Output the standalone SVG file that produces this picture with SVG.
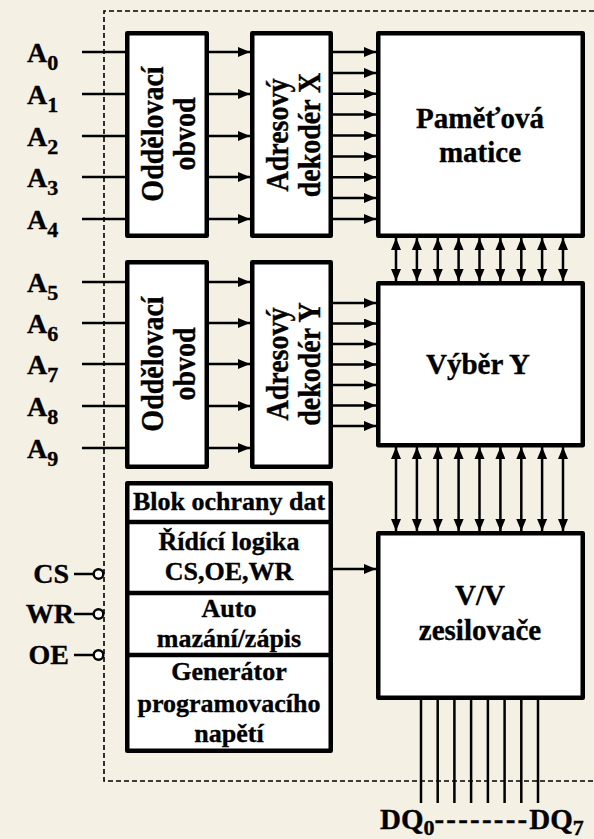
<svg xmlns="http://www.w3.org/2000/svg" width="594" height="839" viewBox="0 0 594 839">
<defs>
<style>
.box{fill:#ffffff;stroke:#000;stroke-width:4.5;stroke-linejoin:round}
.t{font-family:"Liberation Serif","Times New Roman",serif;font-weight:bold;font-size:26px;fill:#000;stroke:#000;stroke-width:0.35}
.big{font-size:29px}
.rot{font-size:28px}
.lab{font-size:28px}
.sub{font-size:22px}
.c{text-anchor:middle}
.e{text-anchor:end}
.w{stroke:#000;stroke-width:2.5;fill:none}
.dash{stroke:#000;stroke-width:1.6;fill:none;stroke-dasharray:5 3}
</style>
<marker id="ah" markerUnits="userSpaceOnUse" markerWidth="13" markerHeight="11" refX="12" refY="5" orient="auto">
<path d="M0,0 L12,5 L0,10 Z" fill="#000"/>
</marker>
<marker id="as" markerUnits="userSpaceOnUse" markerWidth="13" markerHeight="11" refX="0" refY="5" orient="auto">
<path d="M12,0 L0,5 L12,10 Z" fill="#000"/>
</marker>
</defs>
<rect width="594" height="839" fill="#f4f0e3"/>
<path class="dash" d="M594,11 H104 V781 H594"/>

<g id="connectors">
<path class="w" d="M82,52 H125 M82,94 H125 M82,136 H125 M82,177 H125 M82,219 H125"/>
<path class="w" d="M82,282 H125 M82,323 H125 M82,364 H125 M82,406 H125 M82,448 H125"/>
<g class="w" marker-end="url(#ah)">
<path d="M209,52 H250"/><path d="M209,94 H250"/><path d="M209,136 H250"/><path d="M209,177 H250"/><path d="M209,219 H250"/>
<path d="M209,282 H250"/><path d="M209,323 H250"/><path d="M209,364 H250"/><path d="M209,406 H250"/><path d="M209,448 H250"/>
</g>
<g class="w" marker-end="url(#ah)">
<path d="M333,52 H376"/><path d="M333,72.9 H376"/><path d="M333,93.8 H376"/><path d="M333,114.6 H376"/><path d="M333,135.5 H376"/><path d="M333,156.4 H376"/><path d="M333,177.3 H376"/><path d="M333,198.1 H376"/><path d="M333,219 H376"/>
</g>
<g class="w" marker-end="url(#ah)">
<path d="M333,303 H376"/><path d="M333,323.5 H376"/><path d="M333,344 H376"/><path d="M333,364.5 H376"/><path d="M333,385 H376"/><path d="M333,405.5 H376"/><path d="M333,426 H376"/>
</g>
<g class="w" marker-start="url(#as)" marker-end="url(#ah)">
<path d="M396,238 V281"/><path d="M416.9,238 V281"/><path d="M437.8,238 V281"/><path d="M458.6,238 V281"/><path d="M479.5,238 V281"/><path d="M500.4,238 V281"/><path d="M521.3,238 V281"/><path d="M542.1,238 V281"/><path d="M563,238 V281"/>
</g>
<g class="w" marker-start="url(#as)" marker-end="url(#ah)">
<path d="M396,447 V531"/><path d="M416.9,447 V531"/><path d="M437.8,447 V531"/><path d="M458.6,447 V531"/><path d="M479.5,447 V531"/><path d="M500.4,447 V531"/><path d="M521.3,447 V531"/><path d="M542.1,447 V531"/><path d="M563,447 V531"/>
</g>
<path class="w" d="M333,569 H376" marker-end="url(#ah)"/>
<path class="w" d="M421,699 V803 M437.7,699 V803 M454.4,699 V803 M471.1,699 V803 M487.9,699 V803 M504.6,699 V803 M521.3,699 V803 M538,699 V803"/>
<path class="w" d="M74,574 H93.5 M74,614 H93.5 M74,655 H93.5"/>
<g fill="#fff" stroke="#000" stroke-width="2.5">
<circle cx="98.5" cy="574" r="4.8"/><circle cx="98.5" cy="614" r="4.8"/><circle cx="98.5" cy="655" r="4.8"/>
</g>
</g>

<g id="labels-a">
<text class="t lab" x="27" y="62">A<tspan class="sub" dy="8">0</tspan></text>
<text class="t lab" x="27" y="104">A<tspan class="sub" dy="8">1</tspan></text>
<text class="t lab" x="27" y="146">A<tspan class="sub" dy="8">2</tspan></text>
<text class="t lab" x="27" y="187">A<tspan class="sub" dy="8">3</tspan></text>
<text class="t lab" x="27" y="229">A<tspan class="sub" dy="8">4</tspan></text>
<text class="t lab" x="27" y="292">A<tspan class="sub" dy="8">5</tspan></text>
<text class="t lab" x="27" y="333">A<tspan class="sub" dy="8">6</tspan></text>
<text class="t lab" x="27" y="374">A<tspan class="sub" dy="8">7</tspan></text>
<text class="t lab" x="27" y="416">A<tspan class="sub" dy="8">8</tspan></text>
<text class="t lab" x="27" y="458">A<tspan class="sub" dy="8">9</tspan></text>
</g>
<g id="labels-ctrl">
<text class="t lab e" x="69" y="583">CS</text>
<text class="t lab e" x="74" y="623">WR</text>
<text class="t lab e" x="69" y="664">OE</text>
</g>

<g id="buffer1">
<rect class="box" x="127.25" y="33.25" width="79.5" height="202.5"/>
<text class="t rot c" transform="translate(163,134) scale(1.15,1) rotate(-90)">Oddělovací</text>
<text class="t rot c" transform="translate(195,134) scale(1.15,1) rotate(-90)">obvod</text>
</g>
<g id="decoderX">
<rect class="box" x="252.25" y="33.25" width="78.5" height="202.5"/>
<text class="t rot c" transform="translate(288,135) scale(1.15,1) rotate(-90)">Adresový</text>
<text class="t rot c" transform="translate(320,135) scale(1.15,1) rotate(-90)">dekodér X</text>
</g>
<g id="matrix">
<rect class="box" x="378.25" y="33.25" width="204.5" height="202.5"/>
<text class="t big c" x="480" y="128">Paměťová</text>
<text class="t big c" x="480" y="162">matice</text>
</g>
<g id="buffer2">
<rect class="box" x="127.25" y="262.25" width="79.5" height="204.5"/>
<text class="t rot c" transform="translate(163,364) scale(1.15,1) rotate(-90)">Oddělovací</text>
<text class="t rot c" transform="translate(195,364) scale(1.15,1) rotate(-90)">obvod</text>
</g>
<g id="decoderY">
<rect class="box" x="252.25" y="262.25" width="78.5" height="204.5"/>
<text class="t rot c" transform="translate(288,364) scale(1.15,1) rotate(-90)">Adresový</text>
<text class="t rot c" transform="translate(320,364) scale(1.15,1) rotate(-90)">dekodér Y</text>
</g>
<g id="selectY">
<rect class="box" x="378.25" y="283.25" width="204.5" height="162"/>
<text class="t big c" x="478" y="374">Výběr Y</text>
</g>
<g id="control">
<rect class="box" x="127.25" y="483.25" width="203.5" height="267.5"/>
<path stroke="#000" stroke-width="4.5" d="M127,522 H331 M127,593 H331 M127,655 H331"/>
<text class="t c" x="229" y="510">Blok ochrany dat</text>
<text class="t c" x="229" y="550">Řídící logika</text>
<text class="t c" x="229" y="580">CS,OE,WR</text>
<text class="t c" x="229" y="617">Auto</text>
<text class="t c" x="229" y="647">mazání/zápis</text>
<text class="t c" x="229" y="680">Generátor</text>
<text class="t c" x="229" y="712">programovacího</text>
<text class="t c" x="229" y="742">napětí</text>
</g>
<g id="amplifiers">
<rect class="box" x="378.25" y="533.25" width="204.5" height="164.5"/>
<text class="t big c" x="480" y="605">V/V</text>
<text class="t big c" x="480" y="640">zesilovače</text>
</g>
<g id="dq-label">
<text class="t big" x="380" y="829">DQ<tspan class="sub" dy="6">0</tspan><tspan dy="-6" letter-spacing="2.2">--------</tspan>DQ<tspan class="sub" dy="6">7</tspan></text>
</g>
</svg>
